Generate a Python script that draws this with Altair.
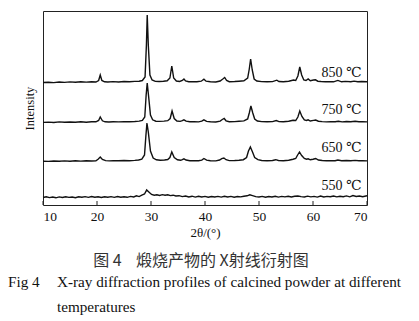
import altair as alt
import pandas as pd

# ---- data (intensity above each baseline, arbitrary units) ----
series_names = ["850 ℃", "750 ℃", "650 ℃", "550 ℃"]
offsets = [122, 82, 43, 7]

t850 = [10, 11, 12, 13, 14, 15, 16, 17, 18, 19, 19.8, 20.3, 20.6, 20.9, 21.4, 22, 23, 24, 25, 26, 27, 27.8,
        28.4, 28.9, 29.15, 29.3, 29.5, 29.8, 30.2, 30.8, 31.5, 32.3, 33.0, 33.5, 33.85, 34.2, 34.7, 35.3, 35.8,
        36.1, 36.4, 37, 37.8, 38.5, 39.3, 39.8, 40.2, 41, 42, 42.8, 43.3, 43.65, 44.0, 44.5, 45.5, 46.3, 47.2,
        47.9, 48.2, 48.45, 48.75, 49.1, 49.6, 50.5, 51.5, 52.5, 53.3, 53.7, 54.5, 55.5, 56.4, 56.8, 57.2, 57.55,
        57.9, 58.3, 58.7, 59.1, 59.5, 60.1, 60.45, 60.9, 61.5, 62.3, 63, 63.8, 64.6, 65.3, 66, 67, 67.6, 68.3, 69, 70]
v850 = [0.5, 0.8, 0.4, 1.0, 0.6, 1.1, 0.7, 1.2, 0.9, 1.3, 1.0, 2.5, 8, 2.5, 1.2, 1.0, 1.4, 1.0, 1.5, 1.2, 1.6, 1.8,
        2.5, 6, 38, 68, 38, 8, 3, 1.6, 1.5, 1.8, 2.2, 5, 17, 5, 2, 1.5, 2.5,
        4, 2, 1.2, 1.4, 1.2, 1.8, 3.8, 1.8, 1.2, 1.0, 2, 4, 5.5, 2.5, 1.3, 1.5, 1.8, 2.2,
        5, 14, 24, 13, 4, 2, 1.4, 1.2, 1.4, 2.8, 1.5, 1.2, 1.8, 3, 2.5, 7, 16,
        8, 3, 2.5, 4, 2.2, 3, 3.2, 1.8, 1.5, 1.2, 1.3, 1.2, 2.6, 1.2, 1.6, 1.3, 1.9, 1.3, 1.5, 1.2]

t750 = [10, 11, 12, 13, 14, 15, 16, 17, 18, 19, 19.8, 20.3, 20.6, 21.0, 21.5, 22.2, 23, 24, 25, 26, 27, 27.8,
        28.4, 28.85, 29.1, 29.3, 29.55, 29.9, 30.3, 30.9, 31.6, 32.4, 33.1, 33.55, 33.9, 34.3, 34.8, 35.4, 35.8,
        36.1, 36.5, 37.2, 38, 38.8, 39.4, 39.8, 40.3, 41, 42, 42.8, 43.2, 43.55, 43.9, 44.5, 45.5, 46.3, 47.2,
        47.9, 48.2, 48.5, 48.85, 49.2, 49.7, 50.5, 51.5, 52.5, 53.2, 53.7, 54.5, 55.5, 56.3, 56.8, 57.2, 57.55,
        57.95, 58.4, 58.8, 59.1, 59.5, 60.1, 60.5, 61.0, 61.7, 62.5, 63.3, 64.1, 64.7, 65.4, 66.2, 67, 67.8, 68.5, 69.2, 70]
v750 = [0.6, 0.9, 0.5, 1.1, 0.7, 1.0, 0.8, 1.3, 0.8, 1.2, 1.2, 2.5, 6, 2.2, 1.2, 1.0, 1.3, 1.1, 1.4, 1.2, 1.5, 1.9,
        2.6, 6, 28, 40, 27, 8, 3.2, 1.8, 1.6, 1.9, 2.3, 4.5, 12, 4.5, 2, 1.6, 2.3,
        3.2, 1.8, 1.2, 1.3, 1.1, 1.8, 3.2, 1.6, 1.2, 1.0, 1.9, 3.5, 4.5, 2.2, 1.3, 1.4, 1.7, 2.1,
        4, 10, 17, 10, 4, 2, 1.4, 1.2, 1.4, 2.4, 1.4, 1.2, 1.7, 2.8, 2.5, 6, 12,
        6.5, 3, 2.5, 3.2, 2.0, 2.6, 3.0, 1.8, 1.4, 1.1, 1.3, 1.2, 1.8, 1.1, 1.5, 1.3, 1.7, 1.2, 1.4, 1.1]

t650 = [10, 11, 12, 13, 14, 15, 16, 17, 18, 19, 19.8, 20.2, 20.6, 21.0, 21.6, 22.3, 23, 24, 25, 26, 27, 27.7,
        28.3, 28.8, 29.05, 29.25, 29.5, 29.9, 30.4, 31.0, 31.7, 32.5, 33.1, 33.5, 33.85, 34.3, 34.9, 35.5, 35.8,
        36.1, 36.5, 37.2, 38, 38.8, 39.4, 39.8, 40.3, 41, 42, 42.7, 43.1, 43.5, 43.9, 44.5, 45.5, 46.3, 47.1,
        47.7, 48.05, 48.4, 48.8, 49.2, 49.8, 50.5, 51.5, 52.5, 53.1, 53.6, 54.5, 55.5, 56.3, 56.8, 57.1, 57.5,
        57.9, 58.4, 58.8, 59.1, 59.5, 60.0, 60.5, 61.0, 61.7, 62.5, 63.3, 64.1, 64.6, 65.3, 66.2, 67, 67.8, 68.5, 69.2, 70]
v650 = [0.8, 0.6, 1.0, 0.7, 1.1, 0.8, 1.2, 0.9, 1.3, 1.0, 1.3, 2.8, 5, 2.5, 1.4, 1.1, 1.4, 1.2, 1.5, 1.3, 1.6, 2.0,
        2.8, 7, 26, 39, 30, 11, 4, 2.2, 1.8, 2.0, 2.5, 4.5, 10, 4.5, 2.2, 1.7, 2.4,
        3.2, 2.0, 1.3, 1.4, 1.2, 1.9, 3.5, 1.8, 1.3, 1.1, 2.0, 3.4, 4.0, 2.3, 1.4, 1.5, 1.8, 2.3,
        4.5, 11, 15, 10, 4.5, 2.3, 1.5, 1.3, 1.5, 2.3, 1.5, 1.3, 1.8, 2.8, 3.5, 6.5, 10,
        6.5, 3.5, 2.8, 3.2, 2.2, 2.8, 3.5, 2.0, 1.5, 1.2, 1.4, 1.3, 2.0, 1.2, 1.5, 1.3, 1.6, 1.2, 1.4, 1.1]

t550 = [10, 10.6, 11.2, 11.8, 12.4, 13, 13.6, 14.2, 14.8, 15.4, 16, 16.6, 17.2, 17.8, 18.4, 19, 19.6, 20.2,
        20.8, 21.4, 22, 22.6, 23.2, 23.8, 24.4, 25, 25.6, 26.2, 26.8, 27.3, 27.8, 28.3, 28.8, 29.2, 29.6, 30.1,
        30.6, 31.1, 31.6, 32.1, 32.6, 33.1, 33.6, 34.1, 34.6, 35.2, 35.8, 36.4, 37, 37.6, 38.2, 38.8, 39.4, 40,
        40.6, 41.2, 41.8, 42.4, 43, 43.6, 44.2, 44.8, 45.4, 46, 46.6, 47.2, 47.8, 48.3, 48.8, 49.4, 50, 50.6,
        51.2, 51.8, 52.4, 53, 53.6, 54.2, 54.8, 55.4, 56, 56.6, 57.2, 57.8, 58.4, 59, 59.6, 60.2, 60.8, 61.4,
        62, 62.6, 63.2, 63.8, 64.4, 65, 65.6, 66.2, 66.8, 67.4, 68, 68.6, 69.2, 70]
v550 = [0.5, 1.2, 0.4, 1.0, 0.2, 1.1, 0.5, 1.3, 0.6, 1.0, 0.3, 1.2, 0.7, 1.4, 0.6, 1.5, 0.8, 1.2,
        0.5, 1.3, 0.7, 1.4, 0.6, 1.5, 0.8, 1.3, 0.7, 1.6, 1.0, 2.2, 1.4, 2.8, 4.0, 8.0, 6.0, 3.6,
        2.8, 3.3, 2.6, 3.4, 2.8, 3.2, 2.4, 2.8, 2.0, 2.3, 1.4, 2.0, 1.0, 1.8, 0.9, 1.7, 1.0, 1.6,
        0.8, 1.5, 1.0, 1.6, 0.9, 1.7, 1.0, 1.6, 0.8, 1.5, 1.1, 1.8, 2.2, 3.2, 2.4, 1.4, 1.0, 1.6,
        0.8, 1.5, 1.0, 1.7, 0.9, 1.6, 1.1, 1.8, 1.0, 1.7, 2.0, 1.4, 1.0, 1.9, 1.1, 1.6, 0.9, 2.0,
        1.0, 1.6, 1.2, 2.0, 1.1, 1.8, 1.3, 2.1, 1.2, 2.4, 1.5, 2.0, 1.3, 2.2]

tick_values = [10, 20, 30, 40, 50, 60, 70]
label_theta = [65.3, 65.3, 65.3, 65.3]
label_rise = [10, 13, 14, 12]

NB = "\u00a0"
caption_cn = "图" + NB + "4" + NB * 4 + "煅烧产物的" + NB + "X射线衍射图"
caption_fig = "Fig 4"
caption_en1 = "X-ray diffraction profiles of calcined powder at different"
caption_en2 = "temperatures"

# ---- build tables ----
rows = []
for name, off, ts, vs in zip(series_names, offsets, [t850, t750, t650, t550], [v850, v750, v650, v550]):
    for i, (t, v) in enumerate(zip(ts, vs)):
        rows.append({"series": name, "order": i, "theta": t, "value": v + off})
df = pd.DataFrame(rows)

lab = pd.DataFrame({"series": series_names, "theta": label_theta,
                    "value": [o + r for o, r in zip(offsets, label_rise)]})
ticks = pd.DataFrame({"theta": tick_values})

SERIF = "Liberation Serif, Times New Roman, DejaVu Serif, serif"
xs = alt.Scale(domain=[10, 70], nice=False, zero=False)
ys = alt.Scale(domain=[0, 194], nice=False, zero=False)

lines = alt.Chart(df).mark_line(color="#111111", strokeWidth=1.4, interpolate="linear").encode(
    x=alt.X("theta:Q", scale=xs,
            axis=alt.Axis(values=tick_values, title="2θ/(°)", domain=False, ticks=False, grid=False,
                          labelFont=SERIF, labelFontSize=13.5, labelColor="#111", labelPadding=4,
                          titleFont=SERIF, titleFontSize=13, titleFontWeight="normal",
                          titleColor="#111", titlePadding=4)),
    y=alt.Y("value:Q", scale=ys,
            axis=alt.Axis(title="Intensity", domain=False, ticks=False, labels=False, grid=False,
                          titleFont=SERIF, titleFontSize=12.5, titleFontWeight="normal",
                          titleColor="#111", titlePadding=7)),
    detail="series:N",
    order="order:Q",
)

tick_marks = alt.Chart(ticks).mark_rule(color="#222", strokeWidth=1).encode(
    x=alt.X("theta:Q", scale=xs),
    y=alt.value(194),
    y2=alt.value(190),
)

labels = alt.Chart(lab).mark_text(font=SERIF, fontSize=14, color="#111", align="center",
                                  baseline="middle").encode(
    x=alt.X("theta:Q", scale=xs),
    y=alt.Y("value:Q", scale=ys),
    text="series:N",
)

cap_cn = alt.Chart(pd.DataFrame({"t": [caption_cn]})).mark_text(
    font="Noto Sans CJK SC", fontSize=16, color="#333", align="center", baseline="middle"
).encode(x=alt.value(158), y=alt.value(250), text="t:N")

cap_fig = alt.Chart(pd.DataFrame({"t": [caption_fig]})).mark_text(
    font=SERIF, fontSize=15.2, color="#111", align="left", baseline="middle"
).encode(x=alt.value(-35), y=alt.value(271), text="t:N")

cap_en1 = alt.Chart(pd.DataFrame({"t": [caption_en1]})).mark_text(
    font=SERIF, fontSize=15.2, color="#111", align="left", baseline="middle"
).encode(x=alt.value(14), y=alt.value(271), text="t:N")

cap_en2 = alt.Chart(pd.DataFrame({"t": [caption_en2]})).mark_text(
    font=SERIF, fontSize=15.2, color="#111", align="left", baseline="middle"
).encode(x=alt.value(14), y=alt.value(296), text="t:N")

chart = alt.layer(lines, tick_marks, labels, cap_cn, cap_fig, cap_en1, cap_en2).properties(
    width=324, height=194,
    autosize=alt.AutoSizeParams(type="none"),
    padding={"left": 43, "top": 11, "right": 52, "bottom": 116},
    background="white",
).configure_view(stroke="#222", strokeWidth=1)

chart.save("out.html", embed_options={"renderer": "svg", "actions": False})
